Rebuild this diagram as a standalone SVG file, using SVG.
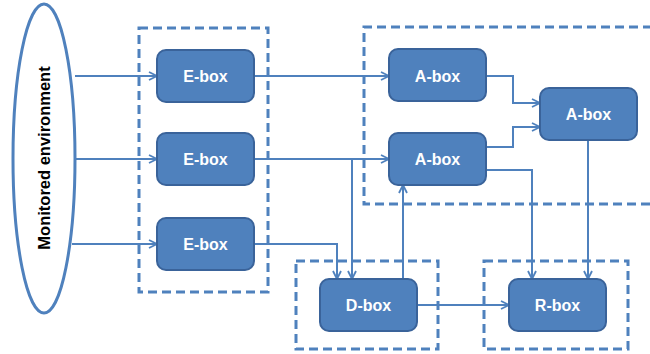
<svg xmlns="http://www.w3.org/2000/svg" width="650" height="354" viewBox="0 0 650 354">
<defs>
<marker id="arr" viewBox="0 0 10 10" refX="9" refY="5" markerWidth="10" markerHeight="10" markerUnits="userSpaceOnUse" orient="auto">
<path d="M1,1 L9,5 L1,9" fill="none" stroke="#4F81BD" stroke-width="1.8"/>
</marker>
</defs>
<style>
.box{fill:#4F81BD;stroke:#3A639A;stroke-width:2}
.lbl{fill:#fff;font-family:"Liberation Sans",Arial,sans-serif;font-weight:bold;font-size:16px;text-anchor:middle;dominant-baseline:central}
.grp{fill:none;stroke:#4F81BD;stroke-width:3;stroke-dasharray:9,5}
.con{fill:none;stroke:#4F81BD;stroke-width:2}
</style>
<rect width="650" height="354" fill="#fff"/>
<g id="groups">
<rect class="grp" x="139" y="28" width="129" height="264"/>
<path class="grp" d="M652,27 H364 V204 H652"/>
<rect class="grp" x="296" y="261" width="142" height="88"/>
<rect class="grp" x="484" y="261" width="144" height="88"/>
</g>
<g id="env">
<ellipse cx="44" cy="158.5" rx="31" ry="154.5" fill="#fff" stroke="#4F81BD" stroke-width="3"/>
<text x="44" y="158" transform="rotate(-90 44 158)" font-family="Liberation Sans,Arial,sans-serif" font-weight="bold" font-size="16.5" text-anchor="middle" dominant-baseline="central" fill="#000">Monitored environment</text>
</g>
<g id="connectors">
<line class="con" x1="75" y1="76" x2="157" y2="76" marker-end="url(#arr)"/>
<line class="con" x1="75" y1="159" x2="157" y2="159" marker-end="url(#arr)"/>
<line class="con" x1="72" y1="244" x2="157" y2="244" marker-end="url(#arr)"/>
<line class="con" x1="254" y1="76" x2="389" y2="76" marker-end="url(#arr)"/>
<line class="con" x1="254" y1="159" x2="389" y2="159" marker-end="url(#arr)"/>
<path class="con" d="M352,159 V279" marker-end="url(#arr)"/>
<path class="con" d="M254,244 H337 V279" marker-end="url(#arr)"/>
<path class="con" d="M403,279 V185" marker-end="url(#arr)"/>
<line class="con" x1="417" y1="305" x2="509" y2="305" marker-end="url(#arr)"/>
<path class="con" d="M486,76 H513 V103 H540" marker-end="url(#arr)"/>
<path class="con" d="M486,147 H513 V127 H540" marker-end="url(#arr)"/>
<path class="con" d="M486,170 H532 V279" marker-end="url(#arr)"/>
<path class="con" d="M588,140 V279" marker-end="url(#arr)"/>
</g>
<g id="e1"><rect class="box" x="157" y="50" width="97" height="52" rx="9"/><text class="lbl" x="205.5" y="76">E-box</text></g>
<g id="e2"><rect class="box" x="157" y="133" width="97" height="52" rx="9"/><text class="lbl" x="205.5" y="159">E-box</text></g>
<g id="e3"><rect class="box" x="157" y="218" width="97" height="52" rx="9"/><text class="lbl" x="205.5" y="244">E-box</text></g>
<g id="a1"><rect class="box" x="389" y="49" width="97" height="52" rx="9"/><text class="lbl" x="437.5" y="76">A-box</text></g>
<g id="a2"><rect class="box" x="389" y="133" width="97" height="52" rx="9"/><text class="lbl" x="437.5" y="159">A-box</text></g>
<g id="a3"><rect class="box" x="540" y="88" width="97" height="52" rx="9"/><text class="lbl" x="588.5" y="114">A-box</text></g>
<g id="d"><rect class="box" x="320" y="279" width="97" height="52" rx="9"/><text class="lbl" x="368.5" y="305">D-box</text></g>
<g id="r"><rect class="box" x="509" y="279" width="97" height="52" rx="9"/><text class="lbl" x="557.5" y="305">R-box</text></g>
</svg>
